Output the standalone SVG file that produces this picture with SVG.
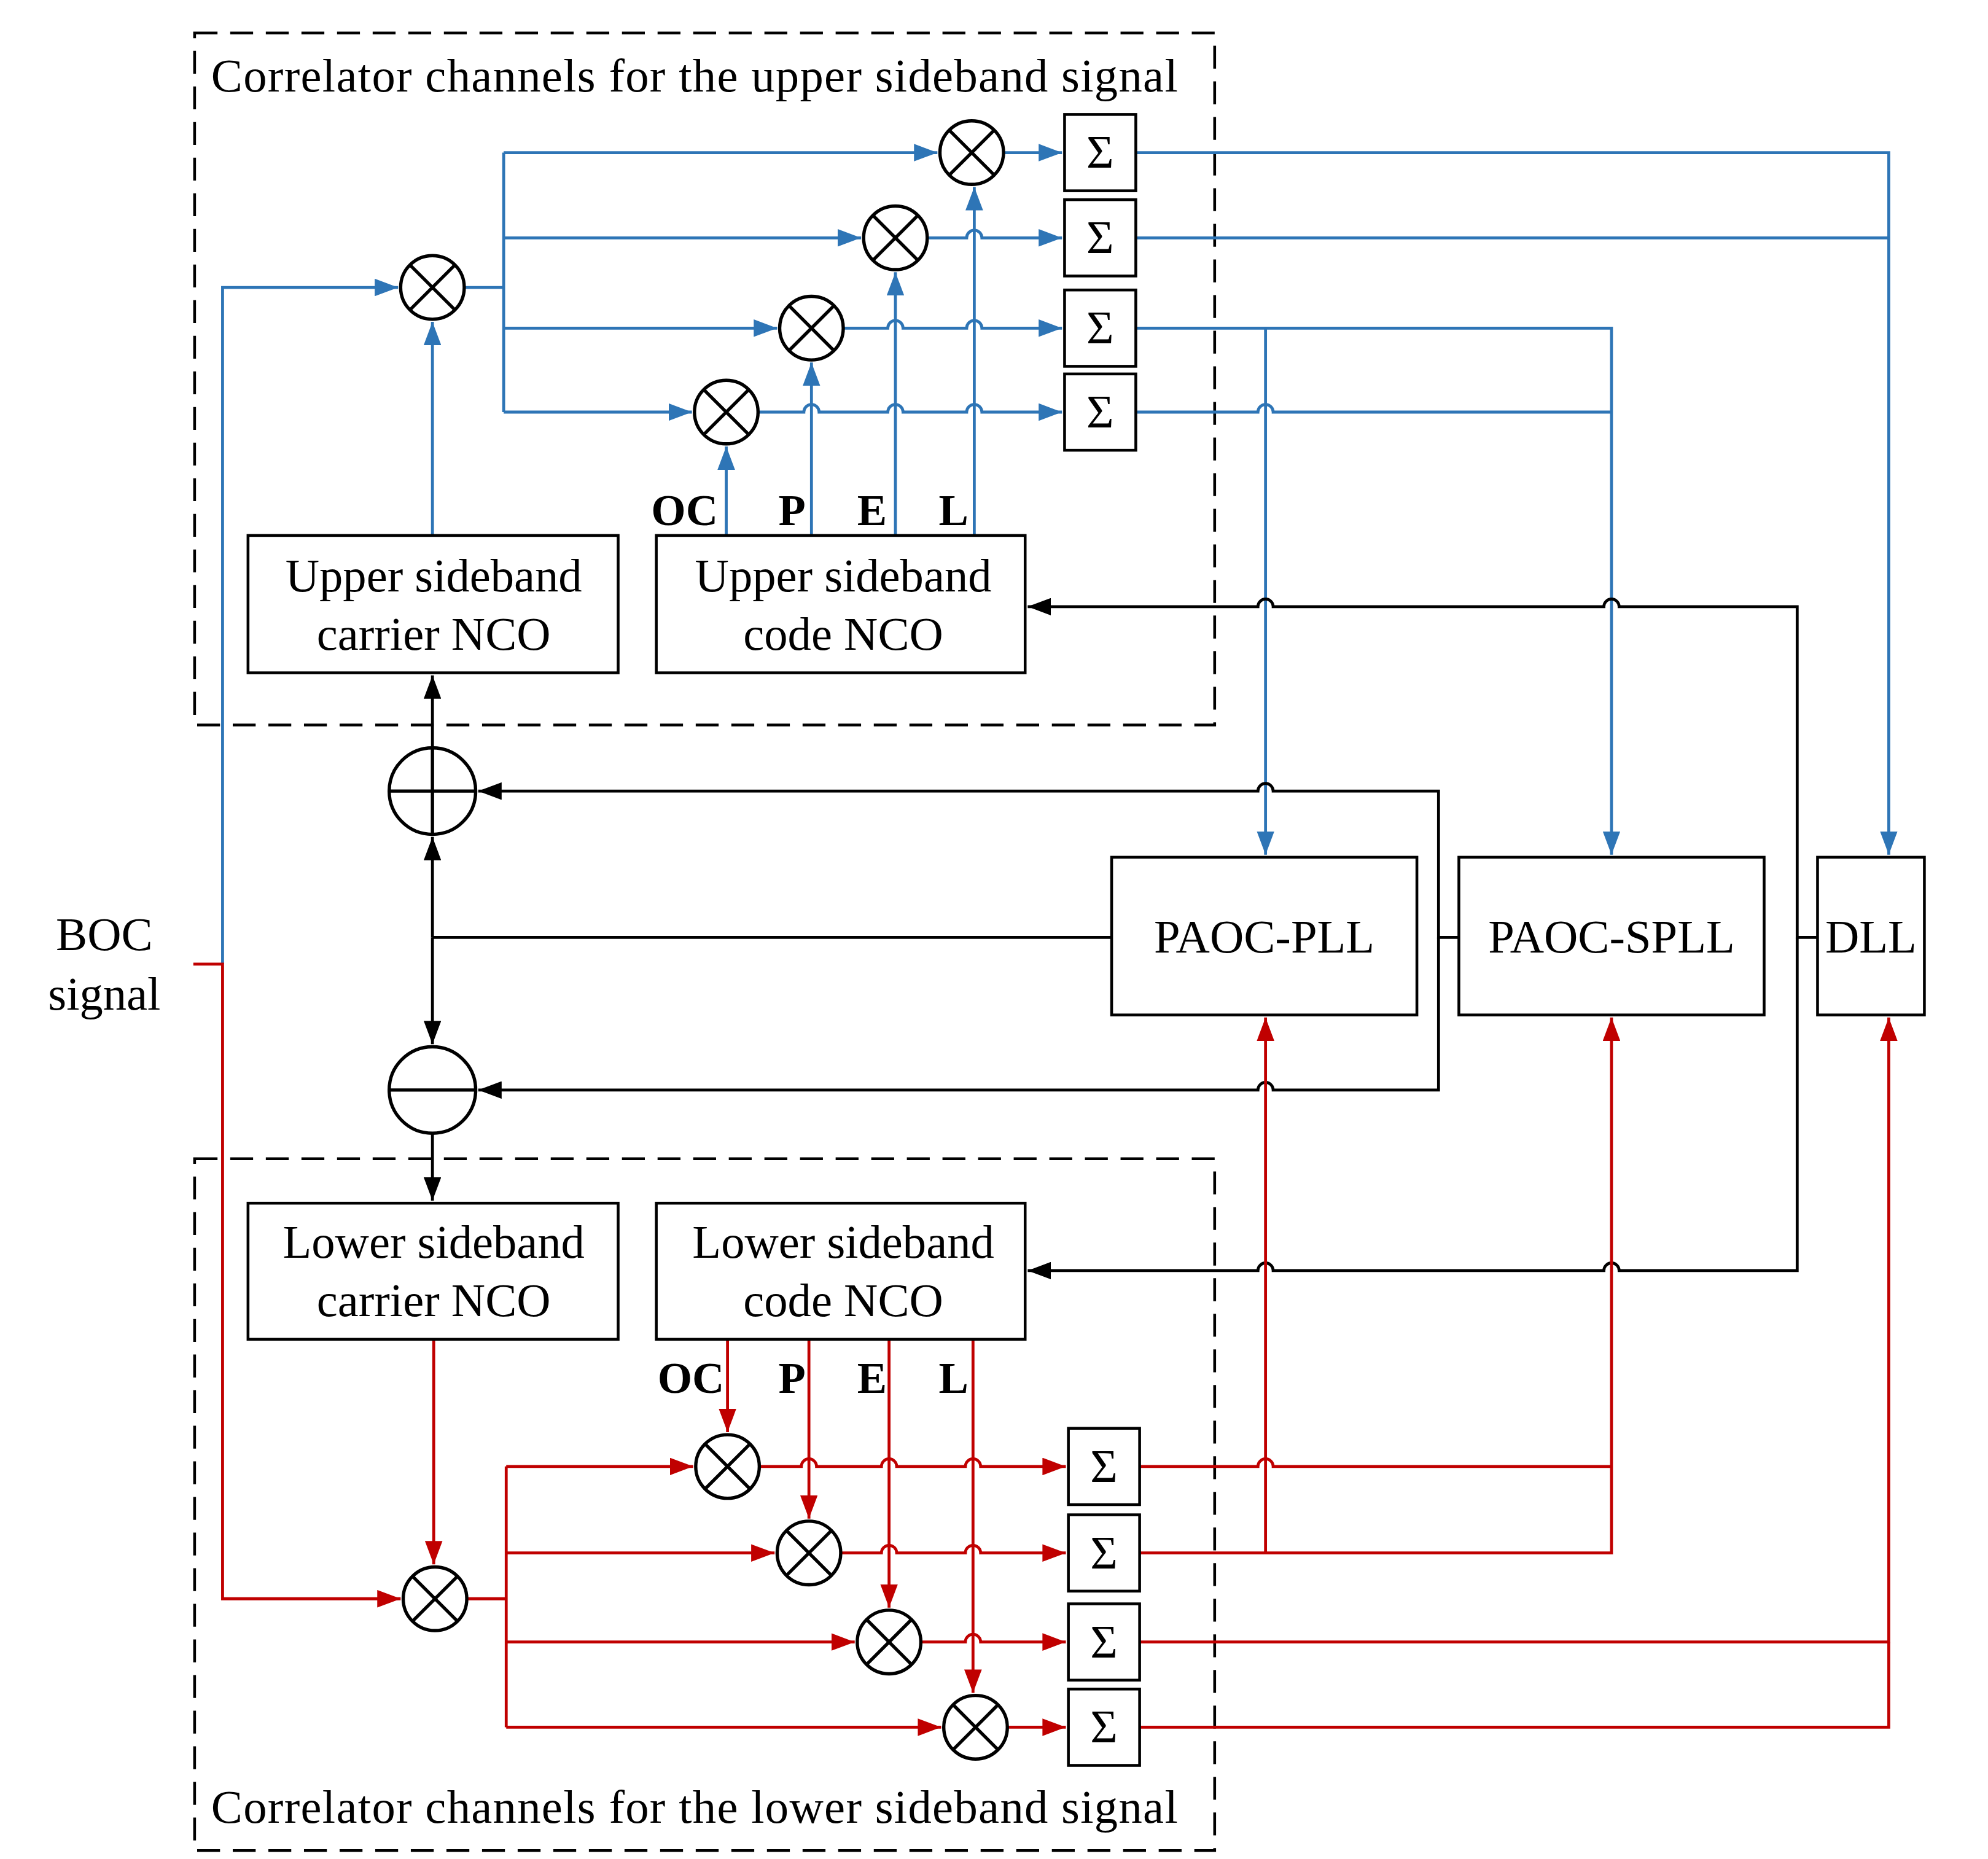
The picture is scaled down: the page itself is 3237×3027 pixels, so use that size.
<svg xmlns="http://www.w3.org/2000/svg" width="3237" height="3027" viewBox="0 0 3237 3027">
<style>
text{font-family:"Liberation Serif","Times New Roman",serif;font-size:37px;fill:#000}
.c{text-anchor:middle}
.b{font-weight:bold;font-size:35px}
.box{fill:#fff;stroke:#000;stroke-width:2.2}
.dash{fill:none;stroke:#000;stroke-width:2.2;stroke-dasharray:18 10}
.bl{fill:none;stroke:#2E75B6;stroke-width:2.3}
.rd{fill:none;stroke:#C00000;stroke-width:2.3}
.bk{fill:none;stroke:#000;stroke-width:2.3}
.mx{fill:#fff;stroke:#000;stroke-width:2.6}
</style>
<defs>
<marker id="ab" markerWidth="8" markerHeight="6" refX="8" refY="3" orient="auto"><path d="M0 0L8 3L0 6z" fill="#2E75B6"/></marker>
<marker id="ar" markerWidth="8" markerHeight="6" refX="8" refY="3" orient="auto"><path d="M0 0L8 3L0 6z" fill="#C00000"/></marker>
<marker id="ak" markerWidth="8" markerHeight="6" refX="8" refY="3" orient="auto"><path d="M0 0L8 3L0 6z" fill="#000"/></marker>
<g id="mix"><circle r="25" class="mx"/><path d="M-17.7 -17.7L17.7 17.7M17.7 -17.7L-17.7 17.7" stroke="#000" stroke-width="2.6"/></g>
<g id="sig"><rect x="0" y="-30" width="56" height="60" class="box"/><text x="28" y="12" class="c">Σ</text></g>
</defs>
<rect width="3237" height="3027" fill="#fff"/>
<g transform="scale(2.071)">
<g id="frames">
<rect x="153" y="26" width="802" height="544" class="dash"/>
<rect x="153" y="911" width="802" height="544" class="dash"/>
<text x="166" y="72" textLength="760">Correlator channels for the upper sideband signal</text>
<text x="166" y="1433" textLength="760">Correlator channels for the lower sideband signal</text>
<text x="82" y="747" class="c">BOC</text>
<text x="82" y="794" class="c">signal</text>
</g>
<g id="connectors">
<path class="bl" d="M175 758V226H313" marker-end="url(#ab)"/>
<path class="bl" d="M365 226H396M396 120V324"/>
<path class="bl" d="M396 120H737" marker-end="url(#ab)"/>
<path class="bl" d="M396 187H677" marker-end="url(#ab)"/>
<path class="bl" d="M396 258H611" marker-end="url(#ab)"/>
<path class="bl" d="M396 324H544" marker-end="url(#ab)"/>
<path class="bl" d="M789 120H835" marker-end="url(#ab)"/>
<path class="bl" d="M729 187H760a6 6 0 0 1 12 0H835" marker-end="url(#ab)"/>
<path class="bl" d="M663 258H698a6 6 0 0 1 12 0H760a6 6 0 0 1 12 0H835" marker-end="url(#ab)"/>
<path class="bl" d="M596 324H632a6 6 0 0 1 12 0H698a6 6 0 0 1 12 0H760a6 6 0 0 1 12 0H835" marker-end="url(#ab)"/>
<path class="bl" d="M571 421V351" marker-end="url(#ab)"/>
<path class="bl" d="M638 421V285" marker-end="url(#ab)"/>
<path class="bl" d="M704 421V214" marker-end="url(#ab)"/>
<path class="bl" d="M766 421V147" marker-end="url(#ab)"/>
<path class="bl" d="M340 421V253" marker-end="url(#ab)"/>
<path class="bl" d="M893 120H1485V672" marker-end="url(#ab)"/>
<path class="bl" d="M893 187H1485"/>
<path class="bl" d="M893 258H1267V672" marker-end="url(#ab)"/>
<path class="bl" d="M995 258V672" marker-end="url(#ab)"/>
<path class="bl" d="M893 324H989a6 6 0 0 1 12 0H1267"/>
<path class="bk" d="M1147 737H1131V622H1001a6 6 0 0 0 -12 0H376" marker-end="url(#ak)"/>
<path class="bk" d="M1131 737V857H1001a6 6 0 0 0 -12 0H376" marker-end="url(#ak)"/>
<path class="bk" d="M1429 737H1413V477H1273a6 6 0 0 0 -12 0H1001a6 6 0 0 0 -12 0H808" marker-end="url(#ak)"/>
<path class="bk" d="M1413 737V999H1273a6 6 0 0 0 -12 0H1001a6 6 0 0 0 -12 0H808" marker-end="url(#ak)"/>
<path class="bk" d="M874 737H340"/>
<path class="bk" d="M340 737V658" marker-end="url(#ak)"/>
<path class="bk" d="M340 737V821" marker-end="url(#ak)"/>
<path class="bk" d="M340 588V531" marker-end="url(#ak)"/>
<path class="bk" d="M340 891V944" marker-end="url(#ak)"/>
<path class="rd" d="M152 758H175V1257H315" marker-end="url(#ar)"/>
<path class="rd" d="M341 1053V1230" marker-end="url(#ar)"/>
<path class="rd" d="M367 1257H398M398 1153V1358"/>
<path class="rd" d="M398 1153H545" marker-end="url(#ar)"/>
<path class="rd" d="M398 1221H609" marker-end="url(#ar)"/>
<path class="rd" d="M398 1291H672" marker-end="url(#ar)"/>
<path class="rd" d="M398 1358H740" marker-end="url(#ar)"/>
<path class="rd" d="M597 1153H630a6 6 0 0 1 12 0H693a6 6 0 0 1 12 0H759a6 6 0 0 1 12 0H838" marker-end="url(#ar)"/>
<path class="rd" d="M661 1221H693a6 6 0 0 1 12 0H759a6 6 0 0 1 12 0H838" marker-end="url(#ar)"/>
<path class="rd" d="M724 1291H759a6 6 0 0 1 12 0H838" marker-end="url(#ar)"/>
<path class="rd" d="M792 1358H838" marker-end="url(#ar)"/>
<path class="rd" d="M572 1053V1126" marker-end="url(#ar)"/>
<path class="rd" d="M636 1053V1194" marker-end="url(#ar)"/>
<path class="rd" d="M699 1053V1264" marker-end="url(#ar)"/>
<path class="rd" d="M765 1053V1331" marker-end="url(#ar)"/>
<path class="rd" d="M896 1153H989a6 6 0 0 1 12 0H1267"/>
<path class="rd" d="M896 1221H1267V800" marker-end="url(#ar)"/>
<path class="rd" d="M995 1221V800" marker-end="url(#ar)"/>
<path class="rd" d="M896 1291H1485V800" marker-end="url(#ar)"/>
<path class="rd" d="M896 1358H1485V1291"/>
</g>
<g id="upper-mixers"><use href="#mix" x="340" y="226"/><use href="#mix" x="764" y="120"/><use href="#mix" x="704" y="187"/><use href="#mix" x="638" y="258"/><use href="#mix" x="571" y="324"/></g>
<g id="upper-sums"><use href="#sig" x="837" y="120"/><use href="#sig" x="837" y="187"/><use href="#sig" x="837" y="258"/><use href="#sig" x="837" y="324"/></g>
<g id="lower-mixers"><use href="#mix" x="342" y="1257"/><use href="#mix" x="572" y="1153"/><use href="#mix" x="636" y="1221"/><use href="#mix" x="699" y="1291"/><use href="#mix" x="767" y="1358"/></g>
<g id="lower-sums"><use href="#sig" x="840" y="1153"/><use href="#sig" x="840" y="1221"/><use href="#sig" x="840" y="1291"/><use href="#sig" x="840" y="1358"/></g>
<g id="adder"><circle cx="340" cy="622" r="34" class="mx"/><path d="M306 622H374M340 588V656" stroke="#000" stroke-width="2.6"/></g>
<g id="subtractor"><circle cx="340" cy="857" r="34" class="mx"/><path d="M306 857H374" stroke="#000" stroke-width="2.6"/></g>
<g id="upper-carrier-nco"><rect x="195" y="421" width="291" height="108" class="box"/><text x="341" y="465" class="c">Upper sideband</text><text x="341" y="511" class="c">carrier NCO</text></g>
<g id="upper-code-nco"><rect x="516" y="421" width="290" height="108" class="box"/><text x="663" y="465" class="c">Upper sideband</text><text x="663" y="511" class="c">code NCO</text></g>
<g id="lower-carrier-nco"><rect x="195" y="946" width="291" height="107" class="box"/><text x="341" y="989" class="c">Lower sideband</text><text x="341" y="1035" class="c">carrier NCO</text></g>
<g id="lower-code-nco"><rect x="516" y="946" width="290" height="107" class="box"/><text x="663" y="989" class="c">Lower sideband</text><text x="663" y="1035" class="c">code NCO</text></g>
<g id="labels-upper"><text x="512" y="413" class="b">OC</text><text x="612" y="413" class="b">P</text><text x="674" y="413" class="b">E</text><text x="738" y="413" class="b">L</text></g>
<g id="labels-lower"><text x="517" y="1095" class="b">OC</text><text x="612" y="1095" class="b">P</text><text x="674" y="1095" class="b">E</text><text x="738" y="1095" class="b">L</text></g>
<g id="paoc-pll"><rect x="874" y="674" width="240" height="124" class="box"/><text x="994" y="749" class="c">PAOC-PLL</text></g>
<g id="paoc-spll"><rect x="1147" y="674" width="240" height="124" class="box"/><text x="1267" y="749" class="c">PAOC-SPLL</text></g>
<g id="dll"><rect x="1429" y="674" width="84" height="124" class="box"/><text x="1471" y="749" class="c">DLL</text></g>
</g>
</svg>
